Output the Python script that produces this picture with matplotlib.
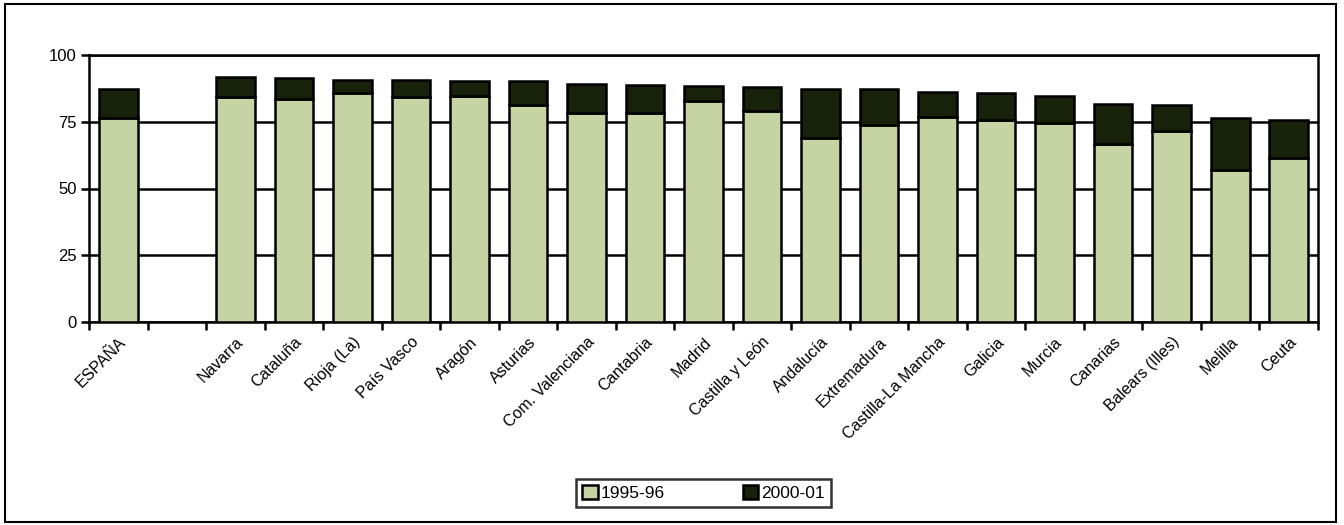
import numpy as np
import matplotlib.pyplot as plt
from matplotlib.patches import Rectangle

plt.rcParams['font.family'] = ['Liberation Sans', 'DejaVu Sans']

# DATA
regions = ["ESPAÑA", "", "Navarra", "Cataluña", "Rioja (La)", "País Vasco", "Aragón",
           "Asturias", "Com. Valenciana", "Cantabria", "Madrid", "Castilla y León",
           "Andalucía", "Extremadura", "Castilla-La Mancha", "Galicia", "Murcia",
           "Canarias", "Balears (Illes)", "Melilla", "Ceuta"]
v_1995 = [76.4, np.nan, 84.4, 83.6, 85.8, 84.2, 84.7, 81.1, 78.2, 78.2, 82.6, 79.0,
          69.0, 73.7, 76.7, 75.5, 74.5, 66.5, 71.6, 56.8, 61.4]
v_2000 = [87.3, np.nan, 91.8, 91.2, 90.8, 90.8, 90.2, 90.2, 89.3, 88.7, 88.4, 88.2,
          87.4, 87.2, 86.3, 85.8, 84.7, 81.7, 81.1, 76.4, 75.7]

v_1995 = np.array(v_1995)
v_2000 = np.array(v_2000)
diff = v_2000 - v_1995

GREEN = "#c6d3a2"
DARK = "#18220a"

fig = plt.figure(figsize=(13.44, 5.25), dpi=100)
ax = fig.add_axes([89/1344, 1-322/525, (1318-89)/1344, (322-55)/525])

x = np.arange(len(regions))
ax.bar(x, v_1995, width=0.66, color=GREEN, edgecolor="black", linewidth=1.8,
       label="1995-96", zorder=3)
ax.bar(x, diff, bottom=v_1995, width=0.66, color=DARK, edgecolor="black",
       linewidth=1.8, label="2000-01", zorder=3)

ax.set_xlim(-0.5, len(regions)-0.5)
ax.set_ylim(0, 100)
ax.set_yticks([0, 25, 50, 75, 100])
ax.yaxis.grid(True, color="black", linewidth=1.8, zorder=0)
ax.set_axisbelow(True)

# ticks between categories
ax.set_xticks(np.arange(len(regions)+1) - 0.5)
ax.set_xticklabels([])
ax.set_xticks(x, minor=True)
ax.set_xticklabels(regions, minor=True, rotation=45, ha="right",
                   rotation_mode="anchor", fontsize=11.5)
ax.tick_params(axis="x", which="minor", length=0, pad=9)
ax.tick_params(axis="x", which="major", length=6, width=1.8, direction="out")
ax.tick_params(axis="y", length=6, width=1.8, direction="out", labelsize=12, pad=3)

for s in ax.spines.values():
    s.set_linewidth(1.8)

leg = ax.legend(loc="center", bbox_to_anchor=(0.5, -0.64), ncol=2, frameon=True,
                fancybox=False, edgecolor="black", fontsize=12.5, handlelength=0.9,
                handleheight=0.9, handletextpad=0.15, columnspacing=4.5,
                borderpad=0.35, borderaxespad=0)
leg.get_frame().set_linewidth(1.8)

fig.patches.append(Rectangle((5/1344, 3/525), 1331/1344, 518/525,
                             transform=fig.transFigure, fill=False,
                             edgecolor="black", linewidth=1.5))

fig.savefig("out.png", dpi=100)
